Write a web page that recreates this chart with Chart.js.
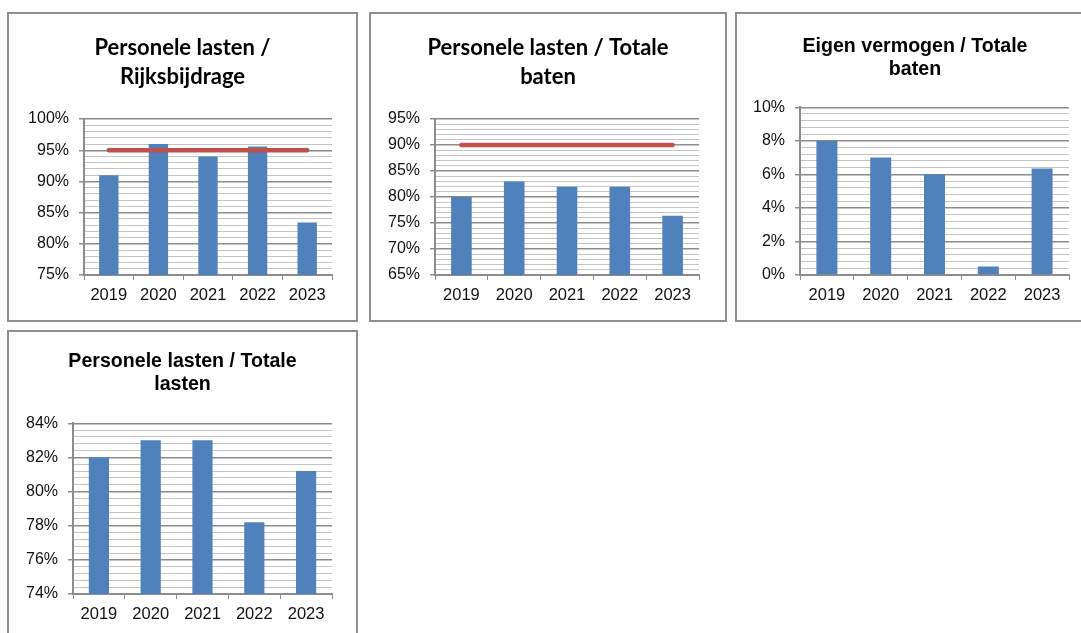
<!DOCTYPE html>
<html>
<head>
<meta charset="utf-8">
<script src="https://cdn.jsdelivr.net/npm/chart.js@4.4.1/dist/chart.umd.min.js"></script>
<style>
  body { margin: 0; background: #fff; width: 1081px; height: 633px; overflow: hidden; position: relative; }
  .panel { position: absolute; border: 2px solid #8f8f8f; background: #fff; }
  .panel canvas { position: absolute; left: 0; top: 0; }
</style>
</head>
<body>
<div class="panel" style="left:7px;top:12px;width:347px;height:306px;"><canvas id="c1" width="347" height="306"></canvas></div>
<div class="panel" style="left:369px;top:12px;width:354px;height:306px;"><canvas id="c2" width="354" height="306"></canvas></div>
<div class="panel" style="left:735px;top:12px;width:400px;height:306px;"><canvas id="c3" width="356" height="306"></canvas></div>
<div class="panel" style="left:7px;top:330px;width:347px;height:400px;"><canvas id="c4" width="347" height="301"></canvas></div>

<script>
// categories
const years = ['2019', '2020', '2021', '2022', '2023'];

// Personele lasten / Rijksbijdrage
const rijksValues = [91, 96, 94, 95.6, 83.4];
const rijksNorm = [95, 95, 95, 95, 95];
const rijksTicks = [75, 80, 85, 90, 95, 100];

// Personele lasten / Totale baten
const batenValues = [80, 83, 82, 82, 76.4];
const batenNorm = [90, 90, 90, 90, 90];
const batenTicks = [65, 70, 75, 80, 85, 90, 95];

// Eigen vermogen / Totale baten
const eigenValues = [8, 7, 6, 0.5, 6.35];
const eigenTicks = [0, 2, 4, 6, 8, 10];

// Personele lasten / Totale lasten
const lastenValues = [82, 83, 83, 78.2, 81.2];
const lastenTicks = [74, 76, 78, 80, 82, 84];

const BLUE = '#4f81bd';
const RED = '#c0504d';
const AXIS = '#8c8c8c';
const MINOR = '#c4c4c4';

function isMajor(v, step) {
    return Math.abs(v / step - Math.round(v / step)) < 1e-6;
}

function makeChart(id, o) {
    const major = o.ticks[1] - o.ticks[0];
    const datasets = [];
    if (o.norm) {
        datasets.push({
            type: 'line',
            data: o.norm,
            borderColor: RED,
            borderWidth: 4.5,
            borderCapStyle: 'round',
            pointRadius: 0,
            order: 0
        });
    }
    datasets.push({
        type: 'bar',
        data: o.values,
        backgroundColor: BLUE,
        barPercentage: 0.39,
        categoryPercentage: 1,
        order: 1
    });

    new Chart(document.getElementById(id), {
        data: { labels: years, datasets: datasets },
        options: {
            responsive: false,
            animation: false,
            plugins: {
                legend: { display: false },
                tooltip: { enabled: false },
                title: {
                    display: true,
                    text: o.title,
                    color: '#000',
                    font: o.titleFont,
                    padding: o.titlePad
                }
            },
            scales: {
                x: {
                    afterFit: function (scale) { scale.height = o.xHeight; },
                    grid: {
                        offset: true,
                        drawOnChartArea: false,
                        drawTicks: true,
                        tickLength: 5,
                        color: AXIS
                    },
                    border: { color: AXIS, width: 2 },
                    ticks: {
                        color: '#111',
                        padding: 6,
                        font: { family: 'Liberation Sans', size: 16.5 }
                    }
                },
                y: {
                    min: o.ticks[0],
                    max: o.ticks[o.ticks.length - 1],
                    afterFit: function (scale) { scale.width = o.yWidth; },
                    grid: {
                        tickLength: 5,
                        color: function (ctx) { return isMajor(ctx.tick.value, major) ? AXIS : MINOR; },
                        lineWidth: function (ctx) { return isMajor(ctx.tick.value, major) ? 1.5 : 1; },
                        tickColor: function (ctx) { return isMajor(ctx.tick.value, major) ? AXIS : 'rgba(0,0,0,0)'; }
                    },
                    border: { color: AXIS, width: 2 },
                    ticks: {
                        stepSize: major / 5,
                        autoSkip: false,
                        padding: 10,
                        color: '#111',
                        font: { family: 'Liberation Sans', size: 16 },
                        callback: function (v) { return isMajor(v, major) ? Math.round(v) + '%' : ''; }
                    }
                },
                // empty right-hand axis, only reserves the white margin right of the plot
                spacer: {
                    type: 'linear',
                    position: 'right',
                    afterFit: function (scale) { scale.width = o.padRight; },
                    grid: { display: false },
                    border: { display: false },
                    ticks: { display: false }
                }
            }
        }
    });
}

const calibriTitle = { family: 'Lato', size: 22, weight: 'bold', lineHeight: 1.32 };
const arialTitle = { family: 'Liberation Sans', size: 19.6, weight: 'bold', lineHeight: 1.17 };

makeChart('c1', {
    title: ['Personele lasten /', 'Rijksbijdrage'],
    titleFont: calibriTitle,
    titlePad: { top: 19.5, bottom: 27.5 },
    values: rijksValues, norm: rijksNorm, ticks: rijksTicks,
    yWidth: 75, xHeight: 45, padRight: 24
});

makeChart('c2', {
    title: ['Personele lasten / Totale', 'baten'],
    titleFont: calibriTitle,
    titlePad: { top: 19.5, bottom: 27.5 },
    values: batenValues, norm: batenNorm, ticks: batenTicks,
    yWidth: 64, xHeight: 45, padRight: 26
});

makeChart('c3', {
    title: ['Eigen vermogen / Totale', 'baten'],
    titleFont: arialTitle,
    titlePad: { top: 21.4, bottom: 26 },
    values: eigenValues, ticks: eigenTicks,
    yWidth: 63, xHeight: 45, padRight: 24
});

makeChart('c4', {
    title: ['Personele lasten / Totale', 'lasten'],
    titleFont: arialTitle,
    titlePad: { top: 18.6, bottom: 26.8 },
    values: lastenValues, ticks: lastenTicks,
    yWidth: 64, xHeight: 39, padRight: 24
});
</script>
</body>
</html>
